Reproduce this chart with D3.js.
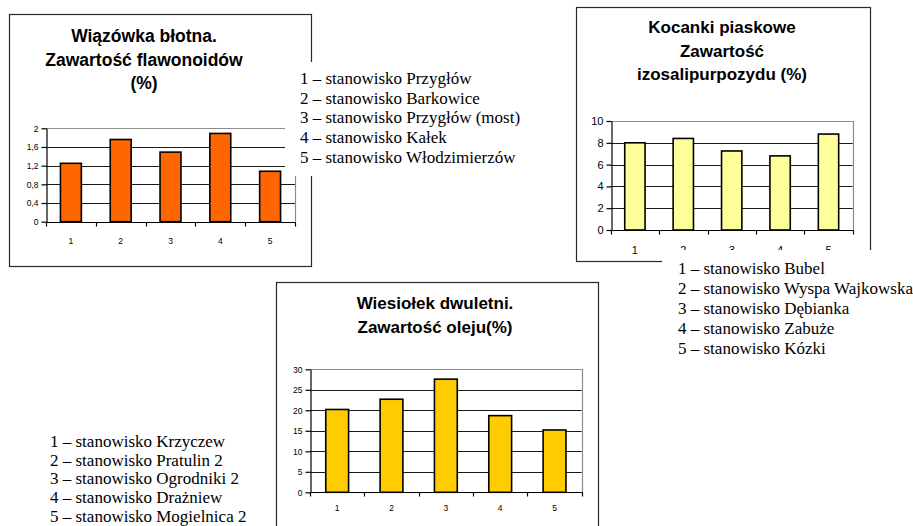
<!DOCTYPE html>
<html>
<head>
<meta charset="utf-8">
<script src="https://cdn.jsdelivr.net/npm/d3@7"></script>
<style>
  html, body { margin: 0; padding: 0; background: #fff; }
  svg { display: block; }
  .sans { font-family: "Liberation Sans", Arial, sans-serif; }
  .serif { font-family: "Liberation Serif", "Times New Roman", serif; }
</style>
</head>
<body>
<svg id="chart" width="913" height="526"></svg>
<script>
// Station numbers shared by all three charts
const categories = ["1", "2", "3", "4", "5"];

// Wiązówka błotna – flavonoid content (%)
const flawonoidy = [1.25, 1.76, 1.49, 1.89, 1.08];
const flawTicks = [0, 0.4, 0.8, 1.2, 1.6, 2];
const flawTickLabels = ["0", "0,4", "0,8", "1,2", "1,6", "2"];
const flawTitle = ["Wiązówka błotna.", "Zawartość flawonoidów", "(%)"];
const flawLegend = [
  "1 – stanowisko Przygłów",
  "2 – stanowisko Barkowice",
  "3 – stanowisko Przygłów (most)",
  "4 – stanowisko Kałek",
  "5 – stanowisko Włodzimierzów"
];

// Kocanki piaskowe – isosalipurposide content (%)
const izosalipurpozyd = [8.0, 8.4, 7.25, 6.8, 8.8];
const kocTicks = [0, 2, 4, 6, 8, 10];
const kocTickLabels = ["0", "2", "4", "6", "8", "10"];
const kocTitle = ["Kocanki piaskowe", "Zawartość", "izosalipurpozydu (%)"];
const kocLegend = [
  "1 – stanowisko Bubel",
  "2 – stanowisko Wyspa Wajkowska",
  "3 – stanowisko Dębianka",
  "4 – stanowisko Zabuże",
  "5 – stanowisko Kózki"
];

// Wiesiołek dwuletni – oil content (%)
const olej = [20.2, 22.7, 27.6, 18.7, 15.2];
const olejTicks = [0, 5, 10, 15, 20, 25, 30];
const olejTickLabels = ["0", "5", "10", "15", "20", "25", "30"];
const olejTitle = ["Wiesiołek dwuletni.", "Zawartość oleju(%)"];
const olejLegend = [
  "1 – stanowisko Krzyczew",
  "2 – stanowisko Pratulin 2",
  "3 – stanowisko Ogrodniki 2",
  "4 – stanowisko Drażniew",
  "5 – stanowisko Mogielnica 2"
];

const svg = d3.select("#chart");

function drawChart(cfg) {
  const g = svg.append("g").attr("class", "sans");

  // outer frame
  g.append("rect")
    .attr("x", cfg.frame[0] + 0.5).attr("y", cfg.frame[1] + 0.5)
    .attr("width", cfg.frame[2] - cfg.frame[0]).attr("height", cfg.frame[3] - cfg.frame[1])
    .attr("fill", "#fff").attr("stroke", "#2a2a2a").attr("stroke-width", 1.2);

  // title
  g.append("g").selectAll("text").data(cfg.title).join("text")
    .attr("x", cfg.titleX)
    .attr("y", (d, i) => cfg.titleY + i * cfg.titleStep)
    .attr("text-anchor", "middle")
    .attr("font-weight", "bold")
    .attr("font-size", cfg.titleSize)
    .attr("fill", "#000")
    .text(d => d);

  const [left, top, right, bottom] = cfg.plot;
  const x = d3.scaleBand().domain(categories).range([left, right]).padding(0);
  const y = d3.scaleLinear().domain([0, d3.max(cfg.ticks)]).range([bottom, top]);

  // gridlines
  g.append("g").selectAll("line").data(cfg.ticks.filter(t => t > 0 && t < d3.max(cfg.ticks))).join("line")
    .attr("x1", left).attr("x2", right)
    .attr("y1", d => Math.round(y(d)) + 0.5).attr("y2", d => Math.round(y(d)) + 0.5)
    .attr("stroke", "#1a1a1a").attr("stroke-width", 1);

  // plot area border (top and right)
  g.append("path")
    .attr("d", `M${left},${Math.round(top) + 0.5}H${Math.round(right) + 0.5}V${bottom}`)
    .attr("fill", "none").attr("stroke", "#8c8c8c").attr("stroke-width", 1.2);

  // bars
  const barFrac = 0.42;
  g.append("g").selectAll("rect").data(cfg.values).join("rect")
    .attr("x", (d, i) => x(categories[i]) + x.bandwidth() * (1 - barFrac) / 2)
    .attr("width", x.bandwidth() * barFrac)
    .attr("y", d => y(d))
    .attr("height", d => y(0) - y(d))
    .attr("fill", cfg.color)
    .attr("stroke", "#000").attr("stroke-width", 1.6);

  // y axis
  const yAxis = d3.axisLeft(y)
    .tickValues(cfg.ticks)
    .tickFormat((d, i) => cfg.tickLabels[i])
    .tickSize(5).tickPadding(3).tickSizeOuter(0);
  const ya = g.append("g").attr("transform", `translate(${Math.round(left) + 0.5},0)`).call(yAxis);
  ya.select(".domain").attr("stroke", "#000").attr("stroke-width", 1.2);
  ya.selectAll(".tick line").attr("stroke", "#000").attr("stroke-width", 1.2);
  ya.selectAll(".tick text").attr("font-family", "Liberation Sans, Arial, sans-serif")
    .attr("font-size", cfg.tickSize).attr("fill", "#000");

  // x axis with tick marks between categories
  const xa = g.append("g").attr("transform", `translate(0,${Math.round(bottom) + 0.5})`);
  xa.append("line").attr("x1", left).attr("x2", right + 1)
    .attr("stroke", "#000").attr("stroke-width", 1.2);
  const bounds = categories.map(c => x(c)).concat([x.range()[1]]);
  xa.selectAll("line.tk").data(bounds).join("line").attr("class", "tk")
    .attr("x1", d => Math.round(d) + 0.5).attr("x2", d => Math.round(d) + 0.5)
    .attr("y1", 0).attr("y2", 4)
    .attr("stroke", "#000").attr("stroke-width", 1.2);
  xa.selectAll("text").data(categories).join("text")
    .attr("x", c => x(c) + x.bandwidth() / 2)
    .attr("y", cfg.xLabelDy)
    .attr("text-anchor", "middle")
    .attr("font-size", cfg.tickSize).attr("fill", "#000")
    .text(c => c);
}

function drawLegend(cfg) {
  const g = svg.append("g").attr("class", "serif");
  if (cfg.box) {
    g.append("rect")
      .attr("x", cfg.box[0]).attr("y", cfg.box[1])
      .attr("width", cfg.box[2] - cfg.box[0]).attr("height", cfg.box[3] - cfg.box[1])
      .attr("fill", "#fff");
  }
  g.selectAll("text").data(cfg.items).join("text")
    .attr("x", cfg.x)
    .attr("y", (d, i) => cfg.y + i * cfg.step)
    .attr("font-size", cfg.size)
    .attr("fill", "#000")
    .text(d => d);
}

drawChart({
  frame: [9, 14, 311, 266],
  title: flawTitle, titleX: 144, titleY: 42, titleStep: 23.5, titleSize: 17.5,
  plot: [46, 128.3, 295, 221.7],
  values: flawonoidy, ticks: flawTicks, tickLabels: flawTickLabels,
  color: "#FF6600", tickSize: 8.5, xLabelDy: 21
});

drawChart({
  frame: [576, 7, 870, 261],
  title: kocTitle, titleX: 722, titleY: 33, titleStep: 23.5, titleSize: 17,
  plot: [610.7, 121, 852.7, 230],
  values: izosalipurpozyd, ticks: kocTicks, tickLabels: kocTickLabels,
  color: "#FFFF99", tickSize: 11, xLabelDy: 23
});

drawChart({
  frame: [276, 282, 598, 540],
  title: olejTitle, titleX: 435, titleY: 309, titleStep: 23.5, titleSize: 17,
  plot: [310, 369.3, 581.7, 492.3],
  values: olej, ticks: olejTicks, tickLabels: olejTickLabels,
  color: "#FFCC00", tickSize: 8.5, xLabelDy: 18
});

drawLegend({ items: flawLegend, box: [285, 62, 526, 176], x: 300, y: 84, step: 19.7, size: 17 });
drawLegend({ items: kocLegend, box: [662, 250, 913, 362], x: 678, y: 274, step: 20, size: 17 });
drawLegend({ items: olejLegend, x: 50, y: 447, step: 18.7, size: 17 });
</script>
</body>
</html>
